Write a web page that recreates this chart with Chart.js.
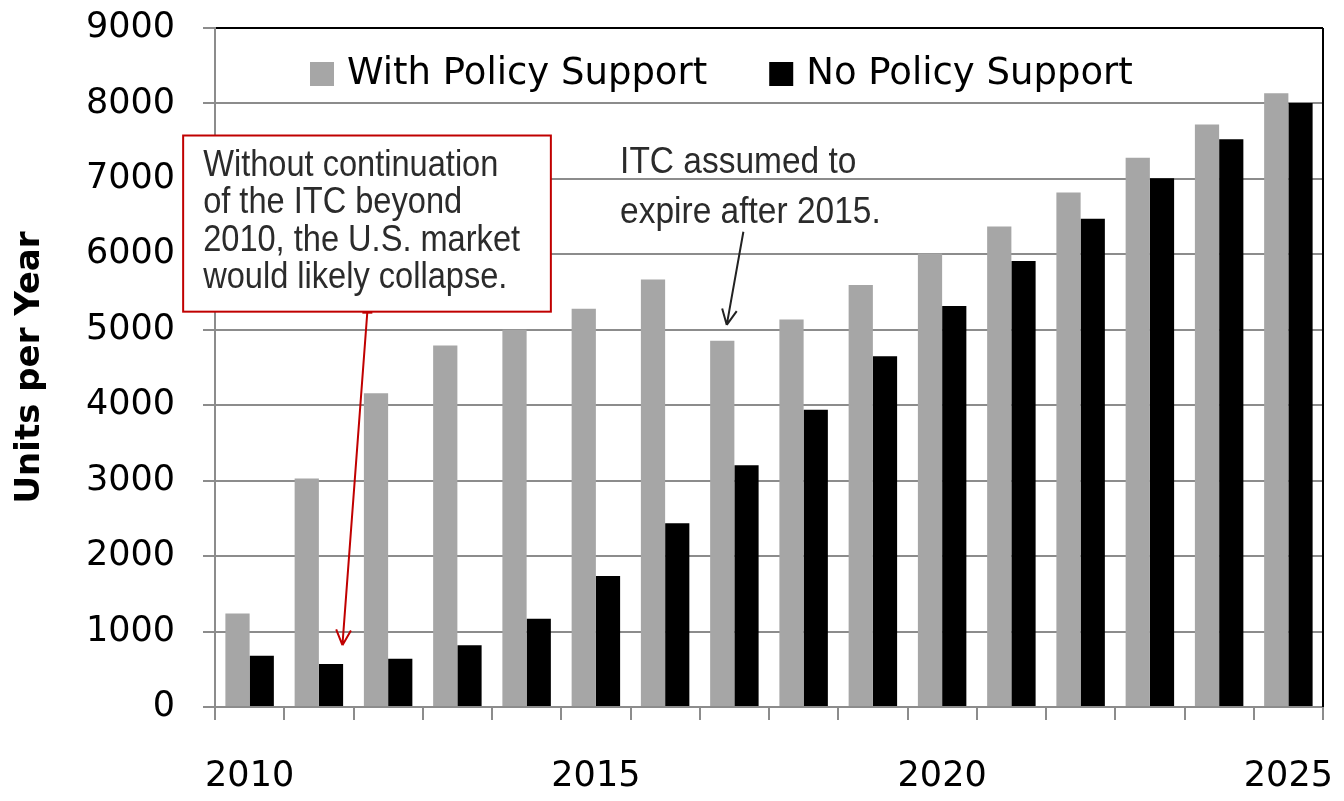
<!DOCTYPE html>
<html>
<head>
<meta charset="utf-8">
<title>Units per Year</title>
<script src="https://cdn.jsdelivr.net/npm/chart.js@4.4.1/dist/chart.umd.min.js"></script>
<style>
  html, body { margin: 0; padding: 0; background: #fff; }
</style>
</head>
<body>
<canvas id="chart" width="1344" height="801"></canvas>
<script>
const years = ['2010', '2011', '2012', '2013', '2014', '2015', '2016', '2017',
               '2018', '2019', '2020', '2021', '2022', '2023', '2024', '2025'];
const labeledYears = ['2010', '2015', '2020', '2025'];
const withPolicy = [1240, 3030, 4160, 4790, 5000, 5280, 5665, 4855,
                    5135, 5595, 6010, 6370, 6820, 7280, 7720, 8135];
const noPolicy = [680, 570, 640, 820, 1170, 1735, 2435, 3205,
                  3940, 4650, 5315, 5910, 6470, 7010, 7525, 8005];

const collapseNote = ['Without continuation', 'of the ITC beyond', '2010, the U.S. market', 'would likely collapse.'];
const expireNote = ['ITC assumed to', 'expire after 2015.'];

const tickFont = { family: '"DejaVu Sans"', size: 35, lineHeight: 1.2 };
const noteFont = '36px "Liberation Sans"';
const GRID = '#8c8c8c';

// narrow-looking text: regular face squeezed sideways
const squeezed = (ctx, text, x, y, sx) => {
    ctx.save();
    ctx.translate(x, y);
    ctx.scale(sx, 1);
    ctx.fillText(text, 0, 0);
    ctx.restore();
};

const arrow = (ctx, x0, y0, x1, y1, color) => {
    const ang = Math.atan2(y1 - y0, x1 - x0);
    ctx.strokeStyle = color;
    ctx.lineWidth = 2;
    ctx.beginPath();
    ctx.moveTo(x0, y0);
    ctx.lineTo(x1, y1);
    for (const s of [-1, 1]) {
        ctx.moveTo(x1, y1);
        ctx.lineTo(x1 - 17 * Math.cos(ang + s * 0.45), y1 - 17 * Math.sin(ang + s * 0.45));
    }
    ctx.stroke();
};

const frameLines = {
    id: 'frameLines',
    beforeDatasetsDraw(chart) {
        const {ctx, chartArea: a} = chart;
        ctx.save();
        ctx.strokeStyle = '#000';
        ctx.lineWidth = 2;
        ctx.beginPath();
        ctx.moveTo(a.right, a.top);
        ctx.lineTo(a.right, a.bottom);
        ctx.stroke();
        ctx.restore();
    }
};

const notes = {
    id: 'notes',
    afterDatasetsDraw(chart) {
        const {ctx} = chart;
        const x = chart.scales.x, y = chart.scales.y;
        const px = i => x.getPixelForValue(i);
        const py = v => y.getPixelForValue(v);
        ctx.save();

        // red call-out box over the early years
        const bl = px(-0.96), br = px(4.35), bt = py(7575), bb = py(5240);
        ctx.fillStyle = '#fff';
        ctx.fillRect(bl, bt, br - bl, bb - bt);
        ctx.strokeStyle = '#c00000';
        ctx.lineWidth = 2;
        ctx.strokeRect(bl, bt, br - bl, bb - bt);
        ctx.font = noteFont;
        ctx.fillStyle = '#2b2b2b';
        ctx.textBaseline = 'alphabetic';
        collapseNote.forEach((line, k) => squeezed(ctx, line, bl + 20, bt + 40 + k * 37.6, 0.905));

        const sx = px(1.70);
        ctx.beginPath();
        ctx.moveTo(sx - 5, bb + 1);
        ctx.lineTo(sx + 5, bb + 1);
        ctx.stroke();
        arrow(ctx, sx, bb, px(1.34), py(820), '#c00000');

        // note about the ITC expiry
        ctx.fillStyle = '#2b2b2b';
        const tx = px(5.35), ty = py(7080);
        expireNote.forEach((line, k) => squeezed(ctx, line, tx, ty + k * 50, 0.93));
        arrow(ctx, px(7.13), py(6300), px(6.89), py(5064), '#222');

        ctx.restore();
    }
};

const insideLegend = {
    id: 'insideLegend',
    afterDraw(chart) {
        const {ctx, chartArea: a} = chart;
        ctx.save();
        ctx.font = '37px "DejaVu Sans"';
        ctx.textBaseline = 'middle';
        let x = a.left + 95;
        const cy = a.top + 46;
        chart.data.datasets.forEach(ds => {
            ctx.fillStyle = ds.backgroundColor;
            ctx.fillRect(x, cy - 12, 24, 24);
            ctx.fillStyle = '#000';
            ctx.fillText(ds.label, x + 37, cy);
            x += 37 + ctx.measureText(ds.label).width + 62;
        });
        ctx.restore();
    }
};

new Chart(document.getElementById('chart'), {
    type: 'bar',
    data: {
        labels: years,
        datasets: [
            { label: 'With Policy Support', data: withPolicy, backgroundColor: '#a6a6a6' },
            { label: 'No Policy Support', data: noPolicy, backgroundColor: '#000000' }
        ]
    },
    options: {
        responsive: false,
        animation: false,
        layout: { padding: { top: 28, right: 21, bottom: 3, left: 0 } },
        datasets: { bar: { categoryPercentage: 0.7, barPercentage: 1.0 } },
        plugins: { legend: { display: false }, tooltip: { enabled: false } },
        scales: {
            x: {
                afterFit: s => { s.height = 91; s.paddingLeft = 0; s.paddingRight = 0; },
                grid: { drawOnChartArea: false, drawTicks: true, tickLength: 13, offset: true, color: GRID, lineWidth: 2 },
                border: { color: GRID, width: 2 },
                ticks: {
                    autoSkip: false, maxRotation: 0, padding: 36, color: '#000', font: tickFont,
                    callback: (v, i) => labeledYears.includes(years[i]) ? years[i] : ''
                }
            },
            y: {
                min: 0, max: 9000,
                afterFit: s => { s.width = 215; s.paddingTop = 0; s.paddingBottom = 0; },
                grid: {
                    color: c => c.tick && c.tick.value === 9000 ? '#000' : GRID,
                    tickColor: GRID, lineWidth: 2, tickLength: 12
                },
                border: { color: GRID, width: 2 },
                ticks: { stepSize: 1000, padding: 28, color: '#000', font: tickFont, callback: v => String(v) },
                title: {
                    display: true, text: 'Units per Year', color: '#000',
                    font: { family: '"DejaVu Sans"', size: 34, weight: 'bold', lineHeight: 1.2 },
                    padding: { top: 10, bottom: 0 }
                }
            }
        }
    },
    plugins: [frameLines, notes, insideLegend]
});
</script>
</body>
</html>
